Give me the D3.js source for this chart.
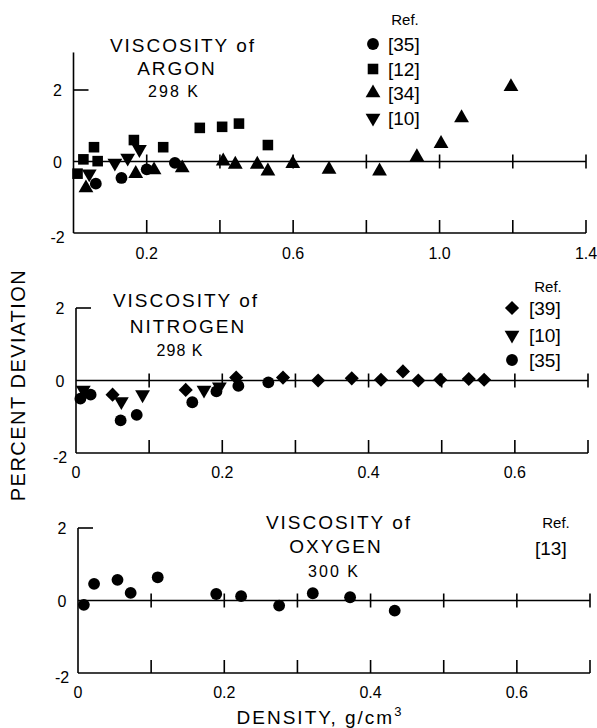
<!DOCTYPE html>
<html><head><meta charset="utf-8">
<script src="https://cdn.jsdelivr.net/npm/d3@7"></script>
<style>
html,body{margin:0;padding:0;background:#fff;}
svg{display:block;}
text{font-family:"Liberation Sans",Arial,sans-serif;fill:#000;}
</style></head>
<body>
<script>
// ---------------- DATA ----------------
// Argon 298 K (density g/cm3, percent deviation)
const argonRef35 = [[0.061,-0.62],[0.131,-0.46],[0.200,-0.22],[0.277,-0.04]];
const argonRef12 = [[0.011,-0.34],[0.027,0.06],[0.056,0.40],[0.066,0.01],[0.165,0.60],[0.245,0.40],[0.345,0.94],[0.406,0.97],[0.452,1.06],[0.531,0.46]];
const argonRef34 = [[0.034,-0.74],[0.170,-0.34],[0.220,-0.24],[0.297,-0.18],[0.409,0.01],[0.442,-0.08],[0.502,-0.08],[0.531,-0.27],[0.599,-0.06],[0.698,-0.22],[0.836,-0.27],[0.938,0.13],[1.004,0.50],[1.060,1.22],[1.195,2.09]];
const argonRef10 = [[0.043,-0.34],[0.113,-0.04],[0.148,0.10],[0.180,0.34]];
// Nitrogen 298 K
const nitrogenRef39 = [[0.050,-0.39],[0.150,-0.26],[0.219,0.08],[0.283,0.08],[0.331,0.00],[0.377,0.06],[0.417,0.02],[0.447,0.25],[0.468,0.00],[0.498,0.02],[0.537,0.04],[0.558,0.02]];
const nitrogenRef10 = [[0.010,-0.26],[0.062,-0.58],[0.091,-0.39],[0.175,-0.26],[0.196,-0.17]];
const nitrogenRef35 = [[0.006,-0.50],[0.020,-0.39],[0.061,-1.10],[0.083,-0.95],[0.159,-0.60],[0.192,-0.30],[0.222,-0.15],[0.263,-0.05]];
// Oxygen 300 K
const oxygenRef13 = [[0.008,-0.12],[0.022,0.46],[0.054,0.57],[0.072,0.21],[0.109,0.64],[0.189,0.18],[0.223,0.12],[0.275,-0.14],[0.321,0.20],[0.372,0.09],[0.433,-0.28]];

// tick values / labels
const argonXTicks = [0.2,0.4,0.6,0.8,1.0,1.2,1.4];
const argonXLabels = ["0.2","","0.6","","1.0","","1.4"];
const n2XTicks = [0.1,0.2,0.3,0.4,0.5,0.6,0.7];
const n2XLabels = [["0","0"],["0.2","0.2"],["0.4","0.4"],["0.6","0.6"]];
const o2XTicks = [0.1,0.2,0.3,0.4,0.5,0.6,0.7];
const o2XLabels = [["0","0"],["0.2","0.2"],["0.4","0.4"],["0.6","0.6"]];
const yTickLabels = [[2,"2"],[0,"0"],[-2,"-2"]];

const argonLegend = [["circle","[35]"],["square","[12]"],["up","[34]"],["down","[10]"]];
const n2Legend = [["diamond","[39]"],["down","[10]"],["circle","[35]"]];
const o2Legend = ["[13]"];

// ---------------- DRAW ----------------
const W = 597, H = 728;
const svg = d3.select("body").append("svg").attr("width",W).attr("height",H);

function symPath(kind){
  if(kind==="circle") return d3.symbol(d3.symbolCircle, 110)();
  if(kind==="square") return d3.symbol(d3.symbolSquare, 112)();
  if(kind==="up"||kind==="down") return d3.symbol(d3.symbolTriangle, 95)();
  if(kind==="diamond") return d3.symbol(d3.symbolSquare, 100)();
}
function symTransform(kind,x,y){
  if(kind==="down") return `translate(${x},${y}) rotate(180)`;
  if(kind==="diamond") return `translate(${x},${y}) rotate(45)`;
  return `translate(${x},${y})`;
}
function drawPoints(g, data, kind, x, y){
  g.selectAll(null).data(data).enter().append("path")
    .attr("d", symPath(kind))
    .attr("transform", d=>symTransform(kind, x(d[0]), y(d[1])))
    .attr("fill","#000");
}

function panel(cfg){
  const g = svg.append("g");
  const x = d3.scaleLinear().domain([0,cfg.xmax]).range([cfg.x0,cfg.x1]);
  const y = d3.scaleLinear().domain([-2,2]).range([cfg.yb,cfg.yt]);
  const st = {stroke:"#000","stroke-width":1.6,fill:"none"};
  const line = (x1,y1,x2,y2)=>{const l=g.append("line").attr("x1",x1).attr("y1",y1).attr("x2",x2).attr("y2",y2); for(const k in st) l.attr(k,st[k]); return l;};
  // left axis
  line(x(0), y(cfg.ytop), x(0), y(-2));
  // bottom axis
  line(x(0), y(-2), x(cfg.xmax), y(-2));
  // y=2 tick
  line(x(0), y(2), x(0)+15, y(2));
  // zero line
  line(x(0), y(0), x(cfg.xmax), y(0));
  // ticks
  cfg.ticks.forEach(t=>{
    line(x(t), y(-2), x(t), y(-2)-13);
    line(x(t), y(0)-7, x(t), y(0)+7);
  });
  // y tick labels
  g.selectAll(null).data(yTickLabels).enter().append("text")
    .attr("x", x(0)-16).attr("y", d=>y(d[0])+ (d[0]===-2?10:6))
    .attr("text-anchor","middle").attr("font-size",16)
    .text(d=>d[1]);
  // x tick labels
  g.selectAll(null).data(cfg.xlabels).enter().append("text")
    .attr("x", d=>x(d[0])).attr("y", y(-2)+cfg.labelDy)
    .attr("text-anchor","middle").attr("font-size",16)
    .text(d=>d[1]);
  return {g,x,y};
}

// Argon
const pA = panel({xmax:1.4,x0:73.5,x1:586,yt:90,yb:233,ytop:3.05,ticks:argonXTicks,
  xlabels: argonXTicks.map((t,i)=>[t,argonXLabels[i]]).filter(d=>d[1]!==""), labelDy:26});
drawPoints(pA.g, argonRef12, "square", pA.x, pA.y);
drawPoints(pA.g, argonRef34, "up", pA.x, pA.y);
drawPoints(pA.g, argonRef10, "down", pA.x, pA.y);
drawPoints(pA.g, argonRef35, "circle", pA.x, pA.y);

// Nitrogen
const pN = panel({xmax:0.7,x0:76,x1:588,yt:308,yb:453,ytop:2,ticks:n2XTicks,
  xlabels: n2XLabels.map(d=>[+d[0],d[1]]), labelDy:25});
drawPoints(pN.g, nitrogenRef39, "diamond", pN.x, pN.y);
drawPoints(pN.g, nitrogenRef10, "down", pN.x, pN.y);
drawPoints(pN.g, nitrogenRef35, "circle", pN.x, pN.y);

// Oxygen
const pO = panel({xmax:0.7,x0:78,x1:590,yt:528,yb:673,ytop:2,ticks:o2XTicks,
  xlabels: o2XLabels.map(d=>[+d[0],d[1]]), labelDy:25});
drawPoints(pO.g, oxygenRef13, "circle", pO.x, pO.y);

// Titles
function title(lines){
  lines.forEach(l=>{
    svg.append("text").attr("x",l[0]).attr("y",l[1]).attr("text-anchor","middle")
      .attr("font-size",l[3]).attr("letter-spacing",l[4]).text(l[2]);
  });
}
title([[183,52,"VISCOSITY of",19,2],[177,75,"ARGON",19,2],[174,97,"298 K",16,2]]);
title([[186,307,"VISCOSITY of",19,2],[188,333,"NITROGEN",19,2],[180,356,"298 K",16,1]]);
title([[339,529,"VISCOSITY of",19,2],[336,553,"OXYGEN",19,2],[334,577,"300 K",16,2]]);

// Legends
function legend(refX, refY, symX, textX, rows){
  svg.append("text").attr("x",refX).attr("y",refY).attr("text-anchor","middle").attr("font-size",15).text("Ref.");
  rows.forEach(r=>{
    if(r.kind){
      svg.append("path").attr("d",symPath(r.kind)).attr("transform",symTransform(r.kind,symX,r.y)).attr("fill","#000");
    }
    svg.append("text").attr("x",textX).attr("y",r.y+7).attr("font-size",19).text(r.label);
  });
}
const aY=[44,69,93,118];
legend(405,25,373,388, argonLegend.map((d,i)=>({kind:d[0],label:d[1],y:aY[i]})));
const nY=[308,335,360];
legend(548,292,512,529, n2Legend.map((d,i)=>({kind:d[0],label:d[1],y:nY[i]})));
legend(556,528,0,535, o2Legend.map(d=>({kind:null,label:d,y:548})));

// Axis titles
svg.append("text").attr("transform","translate(25,385) rotate(-90)").attr("text-anchor","middle")
  .attr("font-size",20).attr("letter-spacing",1.5).text("PERCENT DEVIATION");
const xt = svg.append("text").attr("x",320).attr("y",724).attr("text-anchor","middle")
  .attr("font-size",19).attr("letter-spacing",2);
xt.append("tspan").text("DENSITY, g/cm");
xt.append("tspan").attr("dy",-8).attr("font-size",13).text("3");
</script>
</body></html>
